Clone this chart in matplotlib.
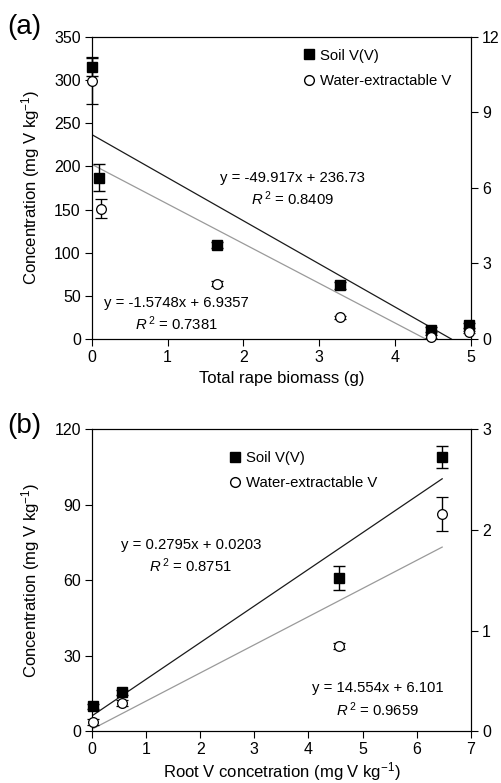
import numpy as np
import matplotlib
matplotlib.use("Agg")
import matplotlib.pyplot as plt
from matplotlib.lines import Line2D

plt.rcParams['font.family'] = ['Liberation Sans', 'DejaVu Sans']
plt.rcParams['mathtext.fontset'] = 'custom'
plt.rcParams['mathtext.rm'] = 'Liberation Sans'
plt.rcParams['mathtext.it'] = 'Liberation Sans:italic'

# panel (a): total rape biomass (g)
a_soil_x = [0.0, 0.10, 1.65, 3.27, 4.48, 4.98]
a_soil_y = [315, 187, 109, 62, 11, 16]
a_soil_err = [10, 15.5, 3, 4, 3, 3]
a_water_x = [0.0, 0.12, 1.65, 3.27, 4.48, 4.98]
a_water_y = [10.25, 5.18, 2.19, 0.86, 0.10, 0.27]   # right axis
a_water_err = [0.93, 0.39, 0.10, 0.05, 0.05, 0.05]
a_soil_fit = (-49.917, 236.73)
a_water_fit = (-1.5748, 6.9357)

# panel (b): root V concentration
b_soil_x = [0.02, 0.55, 4.57, 6.47]
b_soil_y = [10, 15.5, 61, 109]
b_soil_err = [1, 1, 4.8, 4.3]
b_water_x = [0.02, 0.55, 4.57, 6.47]
b_water_y = [0.09, 0.28, 0.85, 2.16]   # right axis
b_water_err = [0.03, 0.03, 0.03, 0.17]
b_soil_fit = (14.554, 6.101)
b_water_fit = (0.2795, 0.0203)

fig = plt.figure(figsize=(5.02, 7.83), dpi=100)

def style(ax):
    ax.tick_params(direction='out', length=5, width=0.8, labelsize=11.5, pad=3)
    for s in ax.spines.values():
        s.set_linewidth(0.8)

def draw(rect, sx, sy, se, wx, wy, we, sfit, wfit, s_end, w_end, xlim, ylim, ylim2,
         xticks, yticks, y2ticks, xlabel, xlabelpad, panel, panel_y, leg_anchor):
    ax = fig.add_axes(rect)
    ax2 = ax.twinx()
    ax.set_zorder(ax2.get_zorder() + 1)
    ax.patch.set_visible(False)
    xs = np.array([0, s_end])
    ax.plot(xs, sfit[0] * xs + sfit[1], color='#1a1a1a', lw=0.9, zorder=2)
    xw = np.array([0, w_end])
    ax2.plot(xw, wfit[0] * xw + wfit[1], color='#9a9a9a', lw=0.9, zorder=2)
    ax.errorbar(sx, sy, yerr=se, fmt='s', color='black', ms=7, capsize=4,
                elinewidth=1, capthick=1, clip_on=False, zorder=3)
    ax.errorbar(wx, np.array(wy) * ylim[1] / ylim2[1], yerr=np.array(we) * ylim[1] / ylim2[1],
                fmt='o', mfc='white', mec='black', ecolor='black', ms=7, mew=0.9,
                capsize=4, elinewidth=1, capthick=1, clip_on=False, zorder=4)
    ax.set_xlim(xlim)
    ax.set_ylim(ylim)
    ax2.set_ylim(ylim2)
    ax.set_xticks(xticks)
    ax.set_yticks(yticks)
    ax2.set_yticks(y2ticks)
    style(ax)
    style(ax2)
    ax.set_xlabel(xlabel, fontsize=12, labelpad=xlabelpad)
    ax.set_ylabel('Concentration (mg V kg$^{-1}$)', fontsize=12, labelpad=8.5)
    handles = [Line2D([], [], marker='s', ls='', color='black', ms=7),
               Line2D([], [], marker='o', ls='', mfc='white', mec='black', ms=7)]
    ax.legend(handles, ['Soil V(V)', 'Water-extractable V'], loc='upper left',
              bbox_to_anchor=leg_anchor, frameon=False, fontsize=10.7,
              handletextpad=0.1, handlelength=1.2, labelspacing=0.75)
    fig.text(0.015, panel_y, panel, fontsize=20, va='center')
    return ax

ax_a = draw([0.183, 0.567, 0.755, 0.386], a_soil_x, a_soil_y, a_soil_err,
            a_water_x, a_water_y, a_water_err, a_soil_fit, a_water_fit,
            -a_soil_fit[1] / a_soil_fit[0], -a_water_fit[1] / a_water_fit[0],
            (0, 5), (0, 350), (0, 12), range(0, 6), range(0, 351, 50), range(0, 13, 3),
            'Total rape biomass (g)', 4, '(a)', 0.966, (0.515, 1.005))
eq = dict(ha='center', va='center', fontsize=10.7)
ax_a.text(2.65, 186, 'y = -49.917x + 236.73', **eq)
ax_a.text(2.65, 162, '$R^{\\,2}$ = 0.8409', **eq)
ax_a.text(1.11, 42, 'y = -1.5748x + 6.9357', **eq)
ax_a.text(1.11, 18, '$R^{\\,2}$ = 0.7381', **eq)

ax_b = draw([0.183, 0.066, 0.755, 0.386], b_soil_x, b_soil_y, b_soil_err,
            b_water_x, b_water_y, b_water_err, b_soil_fit, b_water_fit,
            6.47, 6.47, (0, 7), (0, 120), (0, 3), range(0, 8), range(0, 121, 30), range(0, 4),
            'Root V concetration (mg V kg$^{-1}$)', 2, '(b)', 0.456, (0.32, 0.972))
ax_b.text(1.83, 74, 'y = 0.2795x + 0.0203', **eq)
ax_b.text(1.83, 65.6, '$R^{\\,2}$ = 0.8751', **eq)
ax_b.text(5.28, 17.2, 'y = 14.554x + 6.101', **eq)
ax_b.text(5.28, 8.7, '$R^{\\,2}$ = 0.9659', **eq)

fig.savefig('out.png', dpi=100)
